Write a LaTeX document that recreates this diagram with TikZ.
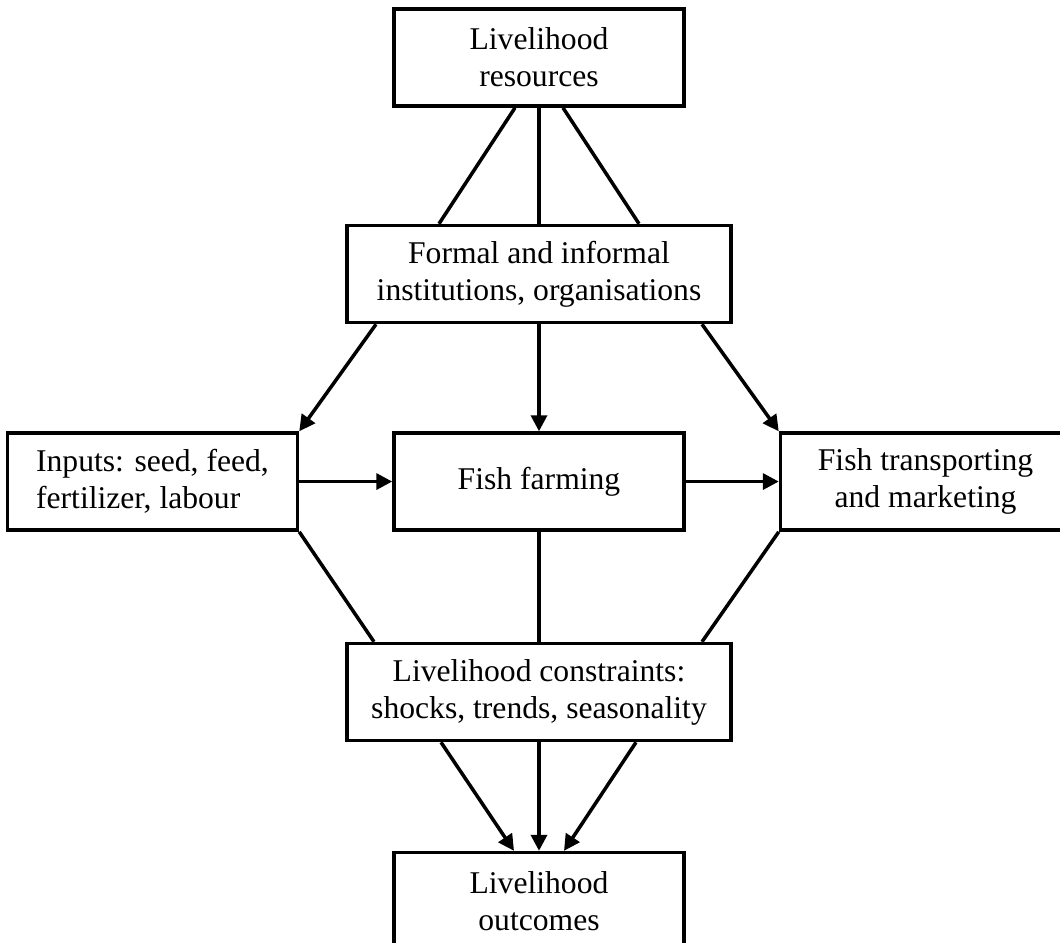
\documentclass[tikz,border=0pt]{standalone}
\usepackage{fontspec}
\setmainfont{Liberation Serif}
\usepackage{tikz}
\usetikzlibrary{arrows.meta,positioning}

\begin{document}
\begin{tikzpicture}[
    node distance=2.2cm and 1.86cm,
    box/.style={draw,line width=2pt,align=center,minimum width=5.8cm,minimum height=1.94cm,font=\fontsize{18}{21}\selectfont},
    widebox/.style={box,minimum width=7.68cm},
    arrow/.style={-{Triangle[length=3.2mm,width=3.2mm]},line width=2pt},
    link/.style={line width=2pt}
  ]
    \useasboundingbox (0,0) rectangle (21.2,-18.84);
    \node[box] (res) at (10.78,-1.15) {Livelihood\\resources};
    \node[widebox,below=2.32cm of res] (inst) {Formal and informal\\institutions, organisations};
    \node[box,below=2.14cm of inst] (farm) {Fish farming};
    \node[box,align=left,left=of farm] (inputs) {Inputs: seed, feed,\\fertilizer, labour};
    \node[box,right=of farm] (market) {Fish transporting\\and marketing};
    \node[widebox,below=2.2cm of farm] (cons) {Livelihood constraints:\\shocks, trends, seasonality};
    \node[box,below=2.17cm of cons] (out) {Livelihood\\outcomes};

    \draw[link] ([xshift=-0.48cm]res.south) -- ([xshift=-2cm]inst.north);
    \draw[link] (res.south) -- (inst.north);
    \draw[link] ([xshift=0.48cm]res.south) -- ([xshift=2cm]inst.north);
    \draw[arrow] ([xshift=-3.26cm]inst.south) -- (inputs.north east);
    \draw[arrow] (inst.south) -- (farm.north);
    \draw[arrow] ([xshift=3.26cm]inst.south) -- (market.north west);
    \draw[arrow] (inputs) -- (farm);
    \draw[arrow] (farm) -- (market);
    \draw[link] (inputs.south east) -- ([xshift=-3.3cm]cons.north);
    \draw[link] (farm.south) -- (cons.north);
    \draw[link] (market.south west) -- ([xshift=3.26cm]cons.north);
    \draw[arrow] ([xshift=-1.96cm]cons.south) -- ([xshift=-0.5cm]out.north);
    \draw[arrow] (cons.south) -- (out.north);
    \draw[arrow] ([xshift=1.94cm]cons.south) -- ([xshift=0.5cm]out.north);
  \end{tikzpicture}
\end{document}
